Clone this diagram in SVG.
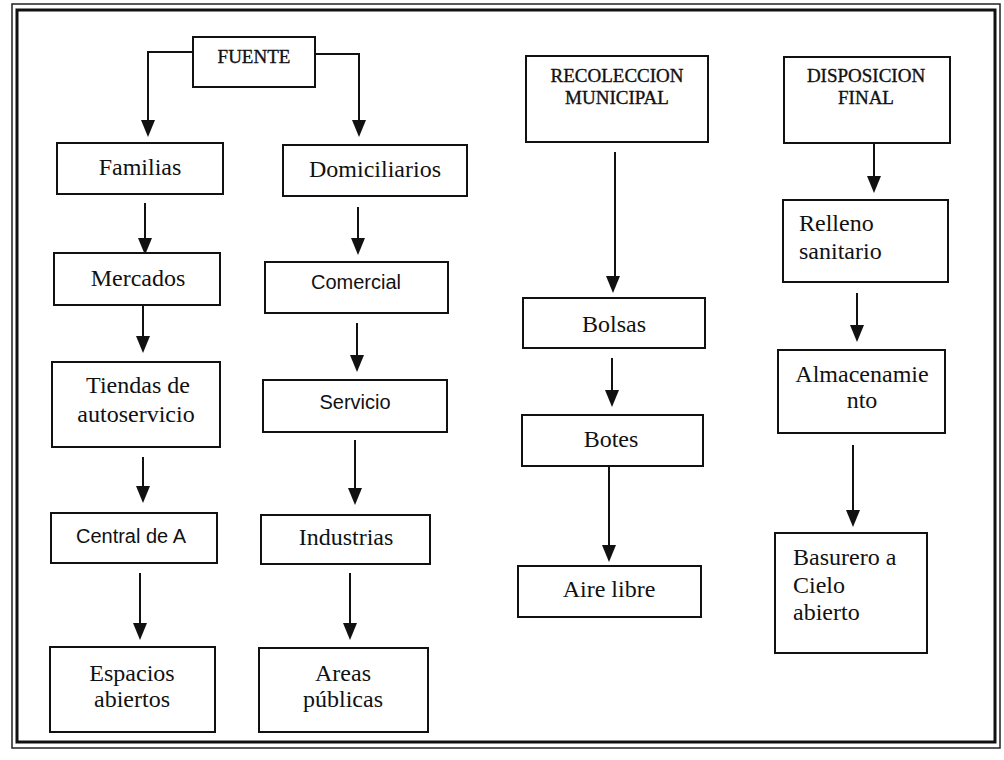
<svg xmlns="http://www.w3.org/2000/svg" width="1004" height="760" viewBox="0 0 1004 760">
<defs>
<style>
.box{fill:#fff;stroke:#111;stroke-width:2}
.t{font-family:"Liberation Serif","Times New Roman",serif;font-size:24px;fill:#111}
.s{font-family:"Liberation Sans",Arial,sans-serif;font-size:20px;fill:#111}
.h{font-family:"Liberation Serif","Times New Roman",serif;font-size:19px;fill:#111;stroke:#111;stroke-width:0.35}
.c{fill:none;stroke:#111;stroke-width:2}
.a{fill:#111}
.m{text-anchor:middle}
</style>
</defs>
<rect width="1004" height="760" fill="#fff"/>
<g id="frame">
<rect x="12" y="4" width="988" height="744" fill="none" stroke="#222" stroke-width="1.5"/>
<rect x="17" y="10" width="978" height="732" fill="none" stroke="#111" stroke-width="3"/>
</g>
<g id="connectors">
<path class="c" d="M193,52 H148 V120"/><path class="a" d="M141,120 L155,120 L148,137 Z"/>
<path class="c" d="M315,54 H359 V120"/><path class="a" d="M352,120 L366,120 L359,137 Z"/>
<path class="c" d="M145,203 V238"/><path class="a" d="M138,238 L152,238 L145,255 Z"/>
<path class="c" d="M358,207 V238"/><path class="a" d="M351,238 L365,238 L358,255 Z"/>
<path class="c" d="M143,305 V336"/><path class="a" d="M136,336 L150,336 L143,353 Z"/>
<path class="c" d="M357,323 V355"/><path class="a" d="M350,355 L364,355 L357,372 Z"/>
<path class="c" d="M143,457 V486"/><path class="a" d="M136,486 L150,486 L143,503 Z"/>
<path class="c" d="M355,440 V488"/><path class="a" d="M348,488 L362,488 L355,505 Z"/>
<path class="c" d="M140,573 V623"/><path class="a" d="M133,623 L147,623 L140,640 Z"/>
<path class="c" d="M350,573 V623"/><path class="a" d="M343,623 L357,623 L350,640 Z"/>
<path class="c" d="M615,152 V276"/><path class="a" d="M606,276 L620,276 L613,293 Z"/>
<path class="c" d="M612,358 V390"/><path class="a" d="M605,390 L619,390 L612,407 Z"/>
<path class="c" d="M609,466 V545"/><path class="a" d="M602,545 L616,545 L609,562 Z"/>
<path class="c" d="M874,143 V176"/><path class="a" d="M867,176 L881,176 L874,193 Z"/>
<path class="c" d="M857,293 V325"/><path class="a" d="M850,325 L864,325 L857,342 Z"/>
<path class="c" d="M853,445 V510"/><path class="a" d="M846,510 L860,510 L853,527 Z"/>
</g>
<g id="fuente"><rect class="box" x="193" y="37" width="122" height="50"/><text class="h m" x="254" y="63">FUENTE</text></g>
<g id="familias"><rect class="box" x="57" y="143" width="166" height="51"/><text class="t m" x="140" y="175">Familias</text></g>
<g id="domiciliarios"><rect class="box" x="283" y="145" width="184" height="51"/><text class="t m" x="375" y="177">Domiciliarios</text></g>
<g id="mercados"><rect class="box" x="54" y="253" width="166" height="52"/><text class="t m" x="138" y="286">Mercados</text></g>
<g id="comercial"><rect class="box" x="265" y="262" width="183" height="51"/><text class="s m" x="356" y="289">Comercial</text></g>
<g id="tiendas"><rect class="box" x="52" y="362" width="168" height="85"/><text class="t m" x="138" y="393">Tiendas de</text><text class="t m" x="136" y="422">autoservicio</text></g>
<g id="servicio"><rect class="box" x="263" y="380" width="184" height="52"/><text class="s m" x="355" y="409">Servicio</text></g>
<g id="central"><rect class="box" x="51" y="513" width="166" height="50"/><text class="s m" x="131" y="543">Central de A</text></g>
<g id="industrias"><rect class="box" x="261" y="515" width="169" height="49"/><text class="t m" x="346" y="545">Industrias</text></g>
<g id="espacios"><rect class="box" x="50" y="647" width="165" height="85"/><text class="t m" x="132" y="681">Espacios</text><text class="t m" x="132" y="707">abiertos</text></g>
<g id="areas"><rect class="box" x="259" y="648" width="169" height="84"/><text class="t m" x="343" y="681">Areas</text><text class="t m" x="343" y="707">públicas</text></g>
<g id="recoleccion"><rect class="box" x="526" y="56" width="182" height="86"/><text class="h m" x="617" y="82">RECOLECCION</text><text class="h m" x="617" y="104">MUNICIPAL</text></g>
<g id="bolsas"><rect class="box" x="523" y="298" width="182" height="50"/><text class="t m" x="614" y="332">Bolsas</text></g>
<g id="botes"><rect class="box" x="522" y="415" width="181" height="51"/><text class="t m" x="611" y="447">Botes</text></g>
<g id="aire"><rect class="box" x="518" y="566" width="183" height="51"/><text class="t m" x="609" y="597">Aire libre</text></g>
<g id="disposicion"><rect class="box" x="784" y="57" width="166" height="86"/><text class="h m" x="866" y="82">DISPOSICION</text><text class="h m" x="866" y="104">FINAL</text></g>
<g id="relleno"><rect class="box" x="783" y="200" width="165" height="82"/><text class="t" x="799" y="231">Relleno</text><text class="t" x="799" y="259">sanitario</text></g>
<g id="almacenamiento"><rect class="box" x="778" y="350" width="167" height="83"/><text class="t m" x="862" y="382">Almacenamie</text><text class="t m" x="862" y="408">nto</text></g>
<g id="basurero"><rect class="box" x="775" y="533" width="152" height="120"/><text class="t" x="793" y="565">Basurero a</text><text class="t" x="793" y="593">Cielo</text><text class="t" x="793" y="620">abierto</text></g>
</svg>
